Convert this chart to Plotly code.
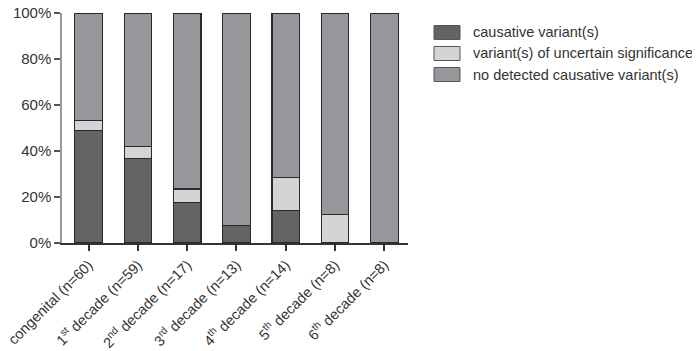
import plotly.graph_objects as go

categories = [
    "congenital (n=60)",
    "1<sup>st</sup> decade (n=59)",
    "2<sup>nd</sup> decade (n=17)",
    "3<sup>rd</sup> decade (n=13)",
    "4<sup>th</sup> decade (n=14)",
    "5<sup>th</sup> decade (n=8)",
    "6<sup>th</sup> decade (n=8)",
]
causative = [49.0, 36.7, 17.6, 7.7, 14.3, 0.0, 0.0]
uncertain = [4.2, 5.1, 5.9, 0.0, 14.3, 12.5, 0.0]
none_detected = [round(100 - a - b, 1) for a, b in zip(causative, uncertain)]

y_tick_vals = [0, 20, 40, 60, 80, 100]
y_tick_text = ["0%", "20%", "40%", "60%", "80%", "100%"]

series_names = [
    "causative variant(s)",
    "variant(s) of uncertain significance",
    "no detected causative variant(s)",
]
series_values = [causative, uncertain, none_detected]
series_colors = ["#636363", "#d4d4d6", "#96979b"]

FONT = "Liberation Sans, Arial, sans-serif"
x_idx = list(range(len(categories)))

fig = go.Figure()
for name, vals, col in zip(series_names, series_values, series_colors):
    fig.add_trace(go.Bar(
        x=x_idx, y=[v if v > 0 else None for v in vals], name=name, width=0.56,
        marker=dict(color=col, line=dict(color="#2a2a2a", width=1.2)),
        showlegend=False,
    ))

# page body adds an 8px offset; compensate so the plot lands where the reference has it
OFF = 8
W, H = 700, 351
dom_left, dom_right, dom_top, dom_bot = 62, 408, 13, 243
pw = dom_right - dom_left
ph = dom_bot - dom_top
def px_x(x):
    return (x - dom_left) / pw
def px_y(y):
    return (dom_bot - y) / ph

shapes = []
annotations = []
centers = [32.5, 53.5, 74.5]
for name, col, cy in zip(series_names, series_colors, centers):
    shapes.append(dict(type="rect", xref="paper", yref="paper",
                       x0=px_x(434), x1=px_x(460), y0=px_y(cy + 7), y1=px_y(cy - 7),
                       fillcolor=col, line=dict(color="#555555", width=1)))
    annotations.append(dict(xref="paper", yref="paper", x=px_x(471), y=px_y(cy),
                            xanchor="left", yanchor="middle", text=name, showarrow=False,
                            font=dict(family=FONT, size=14.5, color="#333333")))

fig.update_layout(
    barmode="stack",
    width=W - OFF, height=H - OFF,
    margin=dict(l=dom_left - OFF, r=W - dom_right, t=dom_top - OFF, b=H - dom_bot),
    paper_bgcolor="white", plot_bgcolor="white",
    font=dict(family=FONT, size=15, color="#333333"),
    shapes=shapes, annotations=annotations,
    xaxis=dict(
        range=[-0.54, 6.48], tickmode="array", tickvals=x_idx, ticktext=categories,
        tickangle=-45, showgrid=False, zeroline=False, automargin=False,
        ticklabeloverflow="allow",
        showline=True, linecolor="#333333", linewidth=1.5,
        ticks="outside", ticklen=6, tickcolor="#333333", tickwidth=1.5,
        tickfont=dict(family=FONT, size=14.5, color="#333333"),
    ),
    yaxis=dict(
        range=[0, 100], tickmode="array", tickvals=y_tick_vals, ticktext=y_tick_text,
        showgrid=False, zeroline=False, automargin=False,
        ticklabeloverflow="allow",
        showline=True, linecolor="#999999", linewidth=1.5,
        ticks="outside", ticklen=6, tickcolor="#555555", tickwidth=1.5,
        tickfont=dict(family=FONT, size=15, color="#333333"),
    ),
)

fig.write_html("out.html")
